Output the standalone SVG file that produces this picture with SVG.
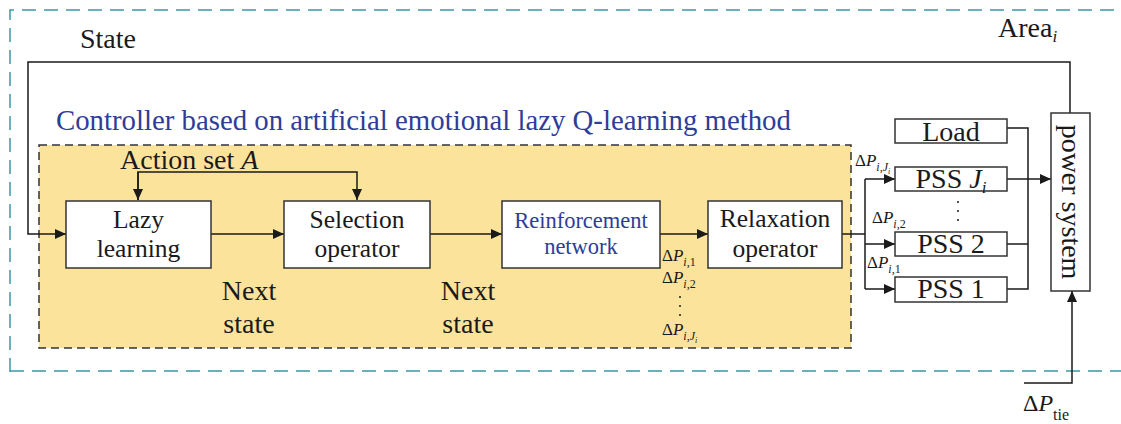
<svg xmlns="http://www.w3.org/2000/svg" width="1121" height="424" viewBox="0 0 1121 424" font-family="'Liberation Serif', 'Times New Roman', 'DejaVu Serif', serif">
<defs>
<marker id="arr" markerWidth="12" markerHeight="10" refX="11" refY="5" orient="auto" markerUnits="userSpaceOnUse">
<path d="M0,0 L11,5 L0,10 z" fill="#1a1a1a"/>
</marker>
</defs>
<style>
text{font-family:'Liberation Serif','Times New Roman','DejaVu Serif',serif;fill:#1a1a1a}
.lbl{font-size:28px}
.box{fill:#fff;stroke:#333;stroke-width:1.5}
.bt{font-size:25.5px;text-anchor:middle}
.blue{fill:#2e3d99}
.ln{fill:none;stroke:#1a1a1a;stroke-width:1.5}
.arrow{marker-end:url(#arr)}
.dp{font-size:17px}
.sub{font-size:12px;font-style:italic}
.it{font-style:italic}
</style>

<g id="area">
<path d="M10,372 L10,10 L1121,10" fill="none" stroke="#3d97a8" stroke-width="1.5" stroke-dasharray="14,8"/>
<path d="M10,371 L1121,371" fill="none" stroke="#3d97a8" stroke-width="1.5" stroke-dasharray="14,8"/>
<text class="lbl" x="998" y="37">Area<tspan class="it" style="font-size:17px" dy="5">i</tspan></text>
</g>

<g id="controller">
<rect x="39" y="145" width="812" height="203" fill="#fbe39c" stroke="#333" stroke-width="1.5" stroke-dasharray="8,5"/>
<text class="blue" x="56" y="130" style="font-size:28.8px">Controller based on artificial emotional lazy Q-learning method</text>
</g>

<g id="connectors">
<path class="ln arrow" d="M1070,113 L1070,62 L28,62 L28,234 L66,234"/>
<path class="ln arrow" d="M138,200 L138,172 L357,172 L357,200"/>
<path class="ln arrow" d="M138,172 L138,200"/>
<path class="ln arrow" d="M211,234 L284,234"/>
<path class="ln arrow" d="M430,234 L502,234"/>
<path class="ln arrow" d="M660,234 L708,234"/>
<path class="ln" d="M842,234 L865,234"/>
<path class="ln" d="M865,179 L865,289"/>
<path class="ln arrow" d="M865,179 L895,179"/>
<path class="ln arrow" d="M865,244 L895,244"/>
<path class="ln arrow" d="M865,289 L895,289"/>
<path class="ln" d="M1007,128 L1028,128 L1028,289 L1007,289"/>
<path class="ln" d="M1007,244 L1028,244"/>
<path class="ln arrow" d="M1007,179 L1051,179"/>
<path class="ln arrow" d="M1024,383 L1072,383 L1072,291"/>
</g>

<text class="lbl" x="80" y="48">State</text>
<text class="lbl" x="120" y="169">Action set <tspan class="it">A</tspan></text>

<g id="lazy">
<rect class="box" x="66" y="201" width="145" height="67"/>
<text class="bt" x="138.5" y="227.5">Lazy</text>
<text class="bt" x="138.5" y="256.5">learning</text>
</g>
<g id="selection">
<rect class="box" x="284" y="201" width="146" height="67"/>
<text class="bt" x="357" y="227.5">Selection</text>
<text class="bt" x="357" y="256.5">operator</text>
</g>
<g id="reinforcement">
<rect class="box" x="502" y="201" width="158" height="67"/>
<text class="bt blue" x="581" y="228" style="font-size:22.5px">Reinforcement</text>
<text class="bt blue" x="581" y="254" style="font-size:22.5px">network</text>
</g>
<g id="relaxation">
<rect class="box" x="708" y="201" width="134" height="67"/>
<text class="bt" x="775" y="227">Relaxation</text>
<text class="bt" x="775" y="256.5">operator</text>
</g>

<g id="next1">
<text class="lbl" x="249" y="300" text-anchor="middle">Next</text>
<text class="lbl" x="249" y="333" text-anchor="middle">state</text>
</g>
<g id="next2">
<text class="lbl" x="468" y="300" text-anchor="middle">Next</text>
<text class="lbl" x="468" y="333" text-anchor="middle">state</text>
</g>

<g id="dp-list">
<text class="dp" x="662" y="261">Δ<tspan class="it">P</tspan><tspan class="sub" dy="5">i</tspan><tspan style="font-size:12px">,1</tspan></text>
<text class="dp" x="662" y="283">Δ<tspan class="it">P</tspan><tspan class="sub" dy="5">i</tspan><tspan style="font-size:12px">,2</tspan></text>
<circle cx="680" cy="297" r="1" fill="#1a1a1a"/>
<circle cx="680" cy="306" r="1" fill="#1a1a1a"/>
<circle cx="680" cy="315" r="1" fill="#1a1a1a"/>
<text class="dp" x="662" y="335">Δ<tspan class="it">P</tspan><tspan class="sub" dy="5">i</tspan><tspan style="font-size:12px">,</tspan><tspan class="sub">J</tspan><tspan class="sub" style="font-size:8px" dy="3">i</tspan></text>
</g>

<g id="load">
<rect class="box" x="895" y="119" width="112" height="24"/>
<text class="lbl" x="951" y="140.5" text-anchor="middle">Load</text>
</g>
<g id="pssj">
<rect class="box" x="895" y="167" width="112" height="24"/>
<text class="lbl" x="951" y="187.5" text-anchor="middle">PSS <tspan class="it">J</tspan><tspan class="it" style="font-size:17px" dy="5">i</tspan></text>
</g>
<g id="pss-dots">
<circle cx="958" cy="202" r="1" fill="#1a1a1a"/>
<circle cx="958" cy="211" r="1" fill="#1a1a1a"/>
<circle cx="958" cy="220" r="1" fill="#1a1a1a"/>
</g>
<g id="pss2">
<rect class="box" x="895" y="232" width="112" height="24"/>
<text class="lbl" x="951" y="252.5" text-anchor="middle">PSS 2</text>
</g>
<g id="pss1">
<rect class="box" x="895" y="277" width="112" height="25"/>
<text class="lbl" x="951" y="298" text-anchor="middle">PSS 1</text>
</g>

<g id="dp-pss">
<text class="dp" x="855" y="166">Δ<tspan class="it">P</tspan><tspan class="sub" dy="5">i</tspan><tspan style="font-size:12px">,</tspan><tspan class="sub">J</tspan><tspan class="sub" style="font-size:8px" dy="3">i</tspan></text>
<text class="dp" x="872" y="223">Δ<tspan class="it">P</tspan><tspan class="sub" dy="5">i</tspan><tspan style="font-size:12px">,2</tspan></text>
<text class="dp" x="867" y="268">Δ<tspan class="it">P</tspan><tspan class="sub" dy="5">i</tspan><tspan style="font-size:12px">,1</tspan></text>
</g>

<g id="power-system">
<rect class="box" x="1051" y="113" width="39" height="178"/>
<text class="lbl" transform="translate(1062,202) rotate(90)" text-anchor="middle">power system</text>
</g>

<g id="tie">
<text x="1023" y="411" style="font-size:24px">Δ<tspan class="it">P</tspan><tspan style="font-size:16px" dy="9">tie</tspan></text>
</g>
</svg>
